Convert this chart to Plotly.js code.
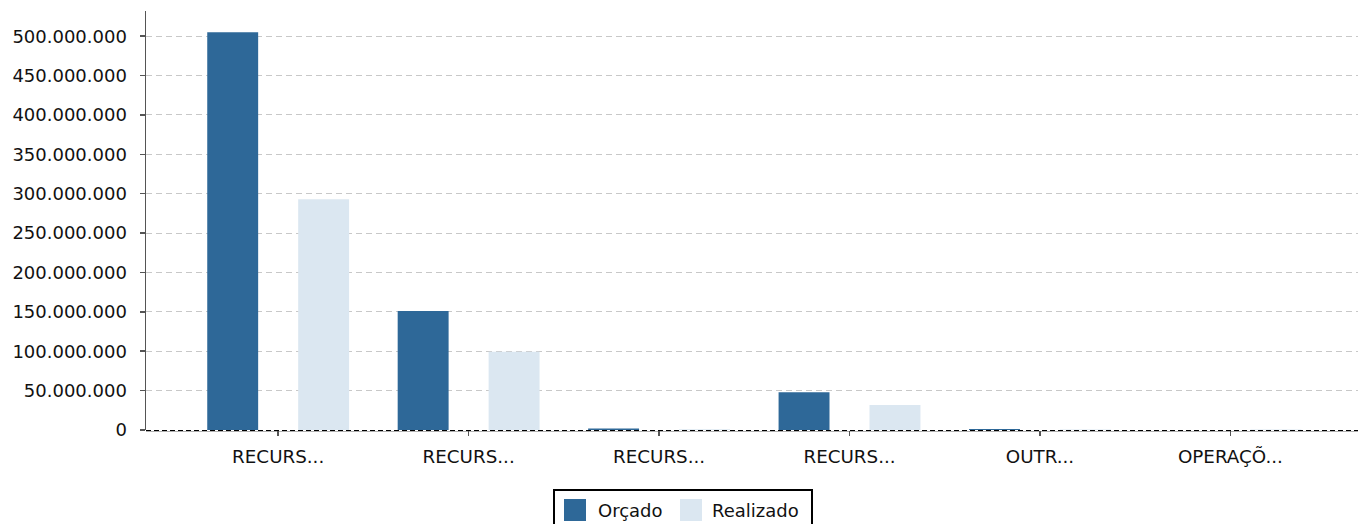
<!DOCTYPE html>
<html>
<head>
<meta charset="utf-8">
<script src="https://cdn.plot.ly/plotly-3.0.1.min.js"></script>
<style>
html,body{margin:0;padding:0;background:#fff;}
#chart{width:1358px;height:524px;}
</style>
</head>
<body>
<div id="chart"></div>
<script>
// ---- data ----
const categories = ["RECURS...", "RECURS...", "RECURS...", "RECURS...", "OUTR...", "OPERAÇÕ..."];
const seriesNames = ["Orçado", "Realizado"];
const orcado = [505000000, 151000000, 2000000, 48000000, 1200000, 0];
const realizado = [293000000, 99500000, 1000000, 31700000, 600000, 500000];
const yTickValues = [0, 50000000, 100000000, 150000000, 200000000, 250000000, 300000000, 350000000, 400000000, 450000000, 500000000];
const colors = ["#2e6898", "#dbe7f1"];

// ---- layout geometry ----
const W = 1358, H = 524;
const mL = 146, mR = 0, mT = 11, mB = 94;
const pw = W - mL - mR, ph = H - mT - mB;
const px = x => (x - mL) / pw;
const py = y => (H - mB - y) / ph;

const idx = categories.map((c, i) => i);
const font = "DejaVu Sans, Verdana, sans-serif";

const traces = [
  {type: "bar", x: idx, y: orcado, name: seriesNames[0], marker: {color: colors[0]}, hoverinfo: "y"},
  {type: "bar", x: idx, y: realizado, name: seriesNames[1], marker: {color: colors[1]}, hoverinfo: "y"}
];

// baseline + custom legend (box, swatches, labels)
const shapes = [
  {type: "line", xref: "paper", yref: "paper", x0: 0, x1: 1, y0: py(431.5), y1: py(431.5), layer: "below",
   line: {color: "#b0b0b0", width: 1}},
  {type: "line", xref: "paper", yref: "paper", x0: 0, x1: 1, y0: py(430.5), y1: py(430.5), layer: "below",
   line: {color: "#000", width: 1, dash: "5px,3px"}},
  {type: "rect", xref: "paper", yref: "paper", x0: px(554), x1: px(812), y0: py(490), y1: py(540),
   line: {color: "#000", width: 2}, fillcolor: "rgba(0,0,0,0)"}
];
const swX = [564, 680];
const txX = [596, 710];
const annotations = [];
seriesNames.forEach((n, i) => {
  shapes.push({type: "rect", xref: "paper", yref: "paper", x0: px(swX[i]), x1: px(swX[i] + 22),
    y0: py(499), y1: py(521), line: {width: 0}, fillcolor: colors[i]});
  annotations.push({xref: "paper", yref: "paper", x: px(txX[i]), y: py(510), xanchor: "left", yanchor: "middle",
    text: n, showarrow: false, font: {family: font, size: 18, color: "#111"}});
});

const layout = {
  width: W, height: H,
  margin: {l: mL, r: mR, t: mT, b: mB, pad: 0},
  paper_bgcolor: "#fff", plot_bgcolor: "#fff",
  separators: ",.",
  showlegend: false,
  barmode: "group",
  bargap: 0.045,
  bargroupgap: 0.44,
  font: {family: font, size: 18, color: "#111"},
  xaxis: {
    type: "linear",
    range: [-0.694, 5.67],
    tickmode: "array", tickvals: idx, ticktext: categories,
    showgrid: false, zeroline: false,
    showline: false,
    ticks: "outside", ticklen: 5, tickcolor: "#555", tickwidth: 1.5,
    ticklabelstandoff: 5,
    tickfont: {family: font, size: 18.3, color: "#111"},
    fixedrange: true
  },
  yaxis: {
    range: [0, 532000000],
    tickmode: "array", tickvals: yTickValues, tickformat: ",d",
    showgrid: true, gridcolor: "#c8c8c8", gridwidth: 1, griddash: "6px,4px",
    zeroline: false,
    showline: true, linecolor: "#555", linewidth: 1.5,
    ticks: "outside", ticklen: 5, tickcolor: "#555", tickwidth: 1.5,
    ticklabelstandoff: 9,
    tickfont: {family: font, size: 18, color: "#111"},
    fixedrange: true
  },
  shapes: shapes,
  annotations: annotations
};

Plotly.newPlot("chart", traces, layout, {displayModeBar: false, staticPlot: true});
</script>
</body>
</html>
